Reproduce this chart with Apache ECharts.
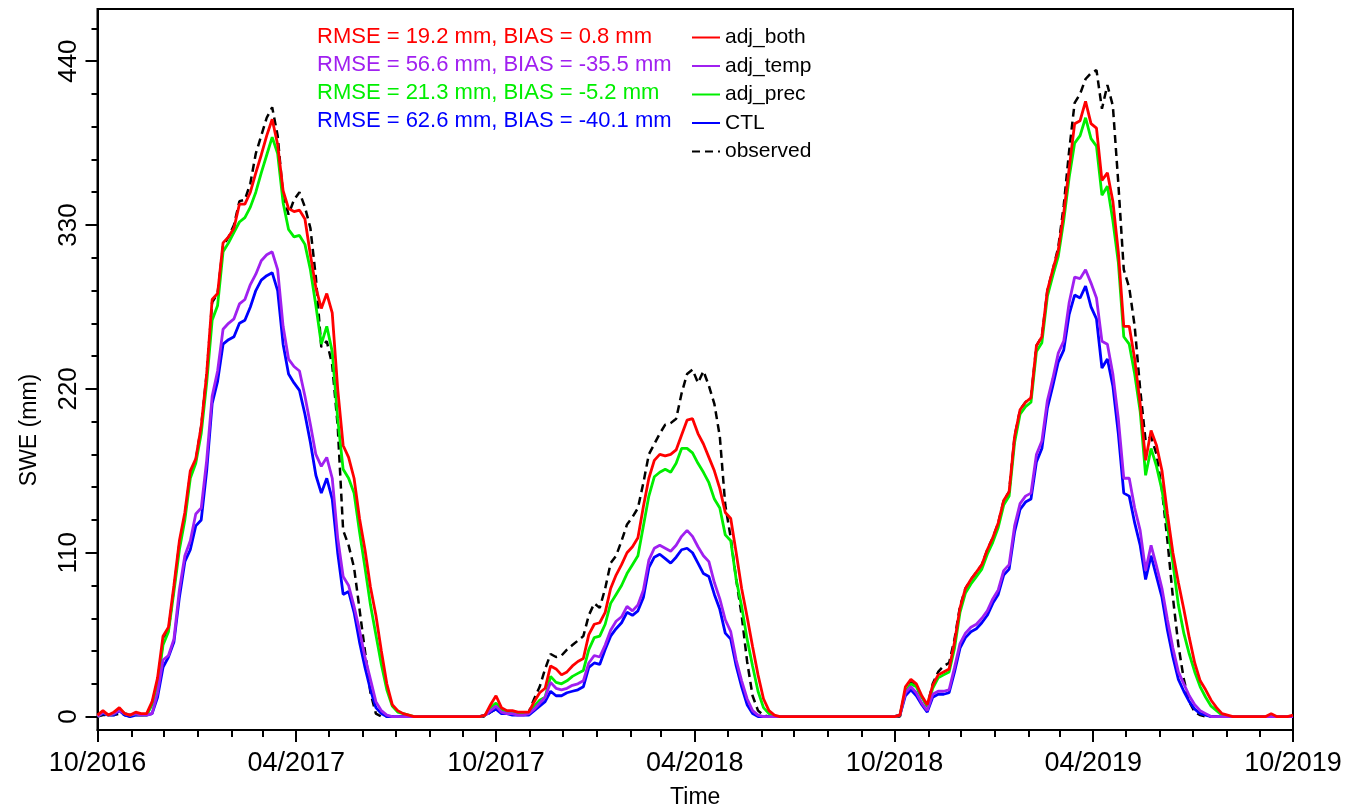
<!DOCTYPE html>
<html>
<head>
<meta charset="utf-8">
<title>SWE</title>
<script src="https://cdn.jsdelivr.net/npm/echarts@6/dist/echarts.min.js"></script>
<style>
  html, body { margin: 0; padding: 0; background: #fff; }
  #chart { width: 1345px; height: 809px; }
</style>
</head>
<body>
<div id="chart"></div>
<script>
// daily SWE sampled every 5 days from 10/2016
const startYear = 2016, startMonth = 9, stepDays = 5, nPoints = 220
const dates = []
for (let i = 0; i < nPoints; i++) {
  dates.push(new Date(startYear, startMonth, 1 + stepDays * i).getTime())
}

const adjBoth = [
  1, 4, 1, 3, 6, 2, 1, 3, 2, 2,
  10, 26, 54, 60, 88, 118, 137, 165, 173, 195,
  230, 280, 284, 318, 322, 328, 344, 344, 352, 365,
  377, 390, 401, 384, 353, 341, 339, 340, 334, 310,
  288, 274, 284, 271, 220, 182, 174, 160, 133, 112,
  87, 68, 44, 22, 8, 4, 2, 1, 0, 0,
  0, 0, 0, 0, 0, 0, 0, 0, 0, 0,
  0, 1, 8, 14, 6, 4, 4, 3, 3, 3,
  10, 16, 19, 34, 32, 28, 30, 34, 37, 39,
  55, 62, 63, 70, 86, 95, 102, 110, 114, 120,
  141, 160, 172, 176, 175, 176, 179, 189, 199, 200,
  190, 183, 174, 165, 153, 137, 133, 110, 86, 67,
  47, 28, 12, 4, 1, 0, 0, 0, 0, 0,
  0, 0, 0, 0, 0, 0, 0, 0, 0, 0,
  0, 0, 0, 0, 0, 0, 0, 1, 20, 25,
  22, 14, 8, 21, 28, 30, 32, 50, 73, 86,
  92, 97, 102, 112, 120, 130, 145, 151, 188, 206,
  211, 214, 249, 255, 286, 300, 313, 338, 368, 398,
  400, 413, 398, 395, 360, 365, 346, 312, 262, 262,
  240, 210, 172, 192, 182, 165, 136, 110, 90, 72,
  53, 36, 24, 18, 11, 6, 2, 1, 0, 0,
  0, 0, 0, 0, 0, 2, 0, 0, 0, 1
]

const adjTemp = [
  0, 3, 1, 2, 4, 2, 1, 2, 1, 1,
  2, 16, 38, 41, 52, 85, 108, 118, 136, 140,
  172, 215, 232, 260, 264, 267, 277, 280, 290, 297,
  306, 310, 312, 300, 262, 240, 235, 232, 215, 196,
  176, 168, 174, 160, 120, 94, 88, 74, 58, 40,
  25, 10, 4, 1, 0, 0, 0, 0, 0, 0,
  0, 0, 0, 0, 0, 0, 0, 0, 0, 0,
  0, 1, 4, 7, 3, 2, 2, 1, 1, 2,
  5, 9, 13, 23, 19, 18, 19, 21, 22, 24,
  36, 41, 40, 48, 58, 64, 67, 74, 71, 75,
  85, 105, 113, 115, 113, 111, 115, 121, 125, 121,
  114, 108, 104, 90, 79, 65, 57, 38, 24, 12,
  4, 1, 0, 0, 0, 0, 0, 0, 0, 0,
  0, 0, 0, 0, 0, 0, 0, 0, 0, 0,
  0, 0, 0, 0, 0, 0, 0, 1, 16, 20,
  16, 9, 4, 15, 17, 17, 18, 33, 49, 56,
  60, 62, 66, 71, 79, 85, 98, 102, 128, 143,
  148, 150, 176, 185, 212, 227, 244, 252, 278, 295,
  294, 300, 291, 281, 252, 250, 230, 200, 160, 160,
  140, 125, 98, 115, 101, 86, 65, 46, 30, 22,
  14, 8, 4, 2, 0, 0, 0, 0, 0, 0,
  0, 0, 0, 0, 0, 0, 0, 0, 0, 0
]

const adjPrec = [
  0, 3, 1, 2, 5, 2, 1, 2, 1, 1,
  8, 22, 48, 57, 84, 112, 132, 160, 170, 190,
  224, 266, 276, 312, 318, 325, 332, 335, 342, 352,
  365, 377, 389, 378, 345, 327, 322, 323, 317, 300,
  276, 250, 262, 245, 200, 166, 160, 150, 124, 100,
  75, 55, 35, 18, 7, 3, 2, 1, 0, 0,
  0, 0, 0, 0, 0, 0, 0, 0, 0, 0,
  0, 1, 6, 9, 5, 3, 3, 2, 2, 2,
  7, 11, 13, 27, 23, 22, 24, 27, 29, 31,
  45, 53, 54, 62, 76, 82, 88, 96, 102, 108,
  128, 148, 161, 164, 166, 164, 170, 180, 180, 177,
  170, 164, 157, 146, 140, 122, 118, 92, 74, 52,
  34, 17, 6, 2, 0, 0, 0, 0, 0, 0,
  0, 0, 0, 0, 0, 0, 0, 0, 0, 0,
  0, 0, 0, 0, 0, 0, 0, 1, 17, 22,
  20, 13, 7, 19, 26, 28, 30, 46, 70, 83,
  89, 94, 99, 109, 117, 127, 142, 148, 184, 203,
  208, 211, 245, 251, 282, 296, 309, 333, 362, 385,
  390, 402, 388, 383, 350, 356, 333, 305, 255, 250,
  230, 205, 162, 180, 168, 152, 128, 103, 75, 56,
  42, 30, 20, 13, 7, 4, 1, 0, 0, 0,
  0, 0, 0, 0, 0, 0, 0, 0, 0, 0
]

const ctl = [
  0, 2, 1, 1, 4, 1, 0, 1, 1, 1,
  2, 13, 33, 40, 50, 80, 104, 112, 128, 132,
  165, 210, 225, 250, 253, 255, 264, 266, 275, 286,
  293, 296, 298, 286, 250, 230, 224, 219, 203, 184,
  162, 150, 160, 146, 110, 82, 84, 70, 50, 33,
  18, 6, 2, 0, 0, 0, 0, 0, 0, 0,
  0, 0, 0, 0, 0, 0, 0, 0, 0, 0,
  0, 1, 3, 5, 2, 2, 1, 1, 1, 1,
  4, 7, 10, 17, 14, 14, 16, 17, 18, 20,
  33, 36, 35, 45, 54, 59, 63, 70, 68, 71,
  80, 100, 107, 109, 106, 103, 107, 112, 113, 110,
  103, 96, 94, 82, 72, 56, 52, 34, 20, 8,
  2, 0, 0, 0, 0, 0, 0, 0, 0, 0,
  0, 0, 0, 0, 0, 0, 0, 0, 0, 0,
  0, 0, 0, 0, 0, 0, 0, 1, 14, 18,
  14, 8, 3, 13, 15, 15, 16, 30, 46, 53,
  57, 59, 63, 68, 76, 82, 95, 99, 124, 139,
  144, 146, 171, 180, 207, 222, 238, 246, 270, 283,
  281, 289, 275, 267, 234, 240, 222, 190, 150, 148,
  130, 115, 92, 108, 94, 80, 58, 40, 25, 17,
  10, 5, 2, 1, 0, 0, 0, 0, 0, 0,
  0, 0, 0, 0, 0, 0, 0, 0, 0, 0
]

const observed = [
  0, 1, 1, 1, 2, 1, 0, 1, 1, 1,
  9, 24, 50, 58, 86, 116, 135, 163, 172, 195,
  230, 278, 284, 316, 322, 330, 346, 347, 358, 378,
  390, 402, 409, 390, 350, 337, 347, 352, 342, 328,
  295, 248, 252, 236, 195, 125, 115, 100, 72, 44,
  16, 2, 0, 0, 0, 0, 0, 0, 0, 0,
  0, 0, 0, 0, 0, 0, 0, 0, 0, 0,
  0, 0, 3, 5, 3, 2, 2, 2, 2, 3,
  12, 20, 32, 42, 40, 41, 45, 48, 51, 54,
  68, 76, 73, 86, 103, 108, 118, 129, 134, 140,
  157, 176, 183, 190, 196, 197, 200, 217, 230, 233,
  224, 232, 222, 210, 188, 142, 120, 92, 68, 37,
  14, 4, 1, 0, 0, 0, 0, 0, 0, 0,
  0, 0, 0, 0, 0, 0, 0, 0, 0, 0,
  0, 0, 0, 0, 0, 0, 0, 0, 18, 23,
  20, 13, 7, 22, 30, 34, 36, 52, 74, 86,
  92, 97, 102, 112, 120, 130, 145, 151, 188, 206,
  211, 214, 249, 255, 286, 300, 315, 343, 380, 412,
  418, 428, 432, 434, 408, 424, 410, 358, 300, 288,
  262, 220, 185, 188, 176, 152, 118, 80, 48, 25,
  10, 3, 1, 0, 0, 0, 0, 0, 0, 0,
  0, 0, 0, 0, 0, 0, 0, 0, 0, 0
]

const statsText = [
  'RMSE = 19.2 mm, BIAS = 0.8 mm',
  'RMSE = 56.6 mm, BIAS = -35.5 mm',
  'RMSE = 21.3 mm, BIAS = -5.2 mm',
  'RMSE = 62.6 mm, BIAS = -40.1 mm'
]
const statsColors = ['#ff0000', '#a020f0', '#00ee00', '#0000ff']

const yMajor = [0, 110, 220, 330, 440]
const yMinor = [22, 44, 66, 88, 132, 154, 176, 198, 242, 264, 286, 308, 352, 374, 396, 418, 462]

// tick positions (1st of month, as ms)
const xMajor = []
for (let k = 0; k <= 6; k++) xMajor.push(new Date(2016, 9 + 6 * k, 1).getTime())
const xMinor = []
for (let k = 0; k <= 36; k++) {
  if (k % 6 !== 0) xMinor.push(new Date(2016, 9 + k, 1).getTime())
}

const font = 'Liberation Sans, Arial, Helvetica, sans-serif'

function pairs(arr) {
  return dates.map((d, i) => [d, arr[i]])
}
function fmtMonth(v) {
  const d = new Date(v)
  const m = d.getMonth() + 1
  return (m < 10 ? '0' + m : '' + m) + '/' + d.getFullYear()
}

const xBase = {
  type: 'value',
  min: xMajor[0],
  max: xMajor[xMajor.length - 1],
  position: 'bottom',
  splitLine: {show: false},
}
const yBase = {
  type: 'value',
  min: -9,
  max: 475,
  position: 'left',
  splitLine: {show: false},
}

const option = {
  animation: false,
  backgroundColor: '#fff',
  textStyle: {fontFamily: font},
  grid: {
    left: 97.5,
    right: 52,
    top: 9,
    bottom: 79,
    outerBoundsMode: 'none',
    show: true,
    borderColor: '#000',
    borderWidth: 2,
    backgroundColor: 'transparent'
  },
  title: statsText.map((t, i) => ({
    text: t,
    left: 317,
    top: 26 + i * 28,
    padding: 0,
    textStyle: {color: statsColors[i], fontSize: 22, fontWeight: 'normal', fontFamily: font}
  })),
  legend: {
    data: ['adj_both', 'adj_temp', 'adj_prec', 'CTL', 'observed'],
    orient: 'vertical',
    left: 691,
    top: 27,
    padding: 0,
    itemWidth: 28,
    itemHeight: 14,
    itemGap: 7.5,
    itemStyle: {opacity: 0},
    textStyle: {color: '#000', fontSize: 21, fontFamily: font}
  },
  xAxis: [
    Object.assign({}, xBase, {
      name: 'Time',
      nameLocation: 'middle',
      nameGap: 56,
      nameTextStyle: {color: '#000', fontSize: 23, fontFamily: font},
      axisLine: {show: true, onZero: false, lineStyle: {color: '#000', width: 2}},
      axisTick: {show: true, length: 12, customValues: xMajor, lineStyle: {color: '#000', width: 2}},
      axisLabel: {
        show: true, customValues: xMajor, margin: 20,
        color: '#000', fontSize: 27, fontFamily: font,
        formatter: fmtMonth,
        showMinLabel: true, showMaxLabel: true
      }
    }),
    Object.assign({}, xBase, {
      axisLine: {show: false, onZero: false},
      axisTick: {show: true, length: 7, customValues: xMinor, lineStyle: {color: '#000', width: 2}},
      axisLabel: {show: false}
    })
  ],
  yAxis: [
    Object.assign({}, yBase, {
      axisLine: {show: true, lineStyle: {color: '#000', width: 2}},
      axisTick: {show: true, length: 12, customValues: yMajor, lineStyle: {color: '#000', width: 2}},
      axisLabel: {
        show: true, customValues: yMajor, rotate: 90, margin: 16,
        color: '#000', fontSize: 26, fontFamily: font
      }
    }),
    Object.assign({}, yBase, {
      axisLine: {show: false},
      axisTick: {show: true, length: 6, customValues: yMinor, lineStyle: {color: '#000', width: 2}},
      axisLabel: {show: false}
    })
  ],
  graphic: [{
    type: 'text',
    x: 30,
    y: 430,
    rotation: Math.PI / 2,
    style: {
      text: 'SWE (mm)',
      fill: '#000',
      font: '23px ' + font,
      textAlign: 'center',
      textVerticalAlign: 'middle'
    }
  }],
  series: [
    {
      name: 'observed', type: 'line', data: pairs(observed),
      symbol: 'none', color: '#000',
      lineStyle: {color: '#000', width: 2.5, type: [8, 5]}
    },
    {
      name: 'CTL', type: 'line', data: pairs(ctl),
      symbol: 'none', color: '#0000ff',
      lineStyle: {color: '#0000ff', width: 2.8}
    },
    {
      name: 'adj_prec', type: 'line', data: pairs(adjPrec),
      symbol: 'none', color: '#00ee00',
      lineStyle: {color: '#00ee00', width: 2.8}
    },
    {
      name: 'adj_temp', type: 'line', data: pairs(adjTemp),
      symbol: 'none', color: '#a020f0',
      lineStyle: {color: '#a020f0', width: 2.8}
    },
    {
      name: 'adj_both', type: 'line', data: pairs(adjBoth),
      symbol: 'none', color: '#ff0000',
      lineStyle: {color: '#ff0000', width: 2.8}
    }
  ]
}

const myChart = echarts.init(document.getElementById('chart'), null, {renderer: 'canvas'})
myChart.setOption(option)
</script>
</body>
</html>
